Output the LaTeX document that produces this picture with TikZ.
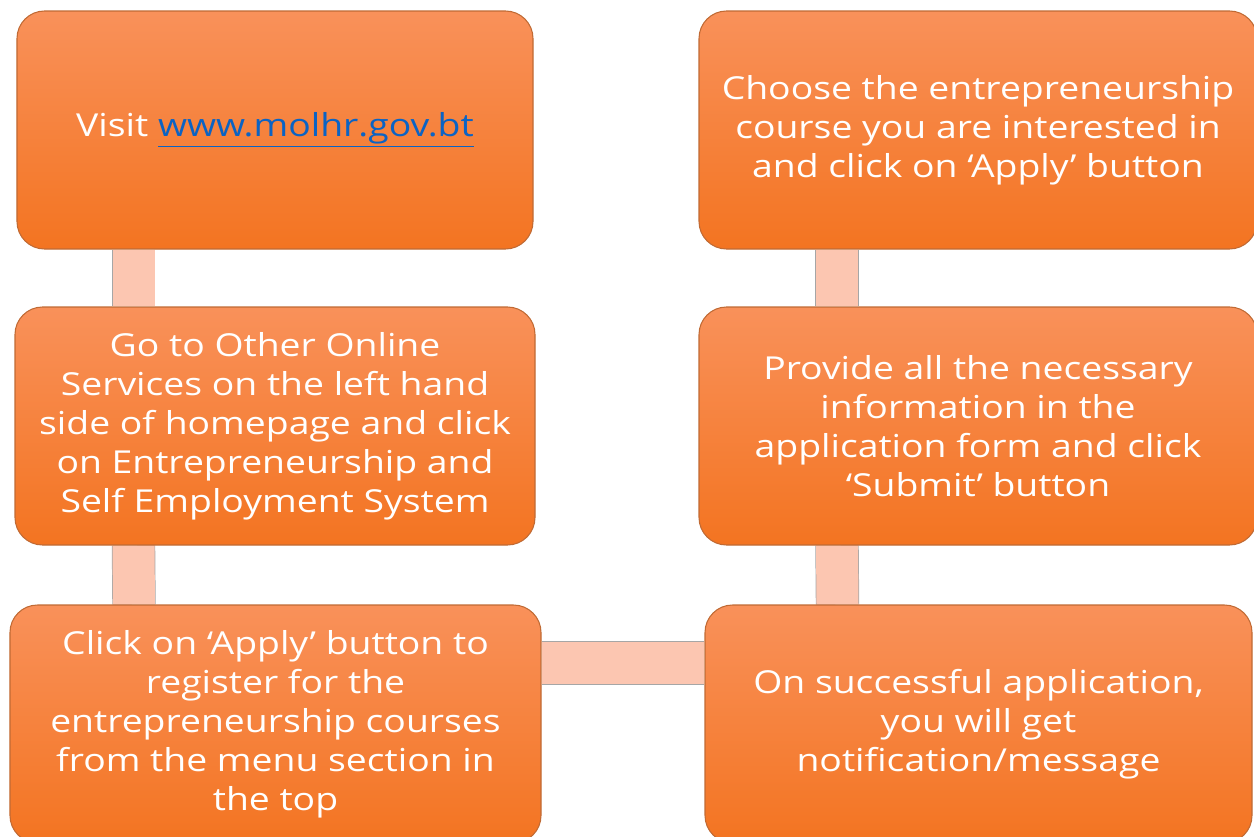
\documentclass[tikz,border=0pt]{standalone}
\usepackage{fontspec}
\setmainfont{Open Sans}[FakeStretch=1.18]
\usetikzlibrary{backgrounds}
\definecolor{boxtop}{HTML}{F9915A}
\definecolor{boxbot}{HTML}{F37421}
\definecolor{boxedge}{HTML}{C06A34}
\definecolor{peach}{HTML}{FCC6B1}
\definecolor{linkblue}{HTML}{0B63C4}
\begin{document}
\begin{tikzpicture}[
    stepbox/.style={draw=boxedge, line width=.6pt, rounded corners=.55cm,
        top color=boxtop, bottom color=boxbot, text=white, align=center,
        minimum height=4.76cm, inner sep=0pt,
        font=\fontsize{18}{22.2}\selectfont},
    link/.style={draw=black!35, line width=.4pt, double=peach, double distance=.84cm}]
        \useasboundingbox (0,0) rectangle (25.08,-16.74);

        \node[stepbox, minimum width=10.32cm](visit) at (5.50,-2.60)
            {Visit {\color{linkblue}\underline{www.molhr.gov.bt}}};
        \node[stepbox, minimum width=10.40cm](services) at (5.50,-8.52)
            {Go to Other Online\\Services on the left hand\\side of homepage and click\\on Entrepreneurship and\\Self Employment System};
        \node[stepbox, minimum width=10.62cm](apply) at (5.51,-14.48)
            {Click on ‘Apply’ button to\\register for the\\entrepreneurship courses\\from the menu section in\\the top};
        \node[stepbox, minimum width=10.94cm](notify) at (19.57,-14.48)
            {On successful application,\\you will get\\notification/message};
        \node[stepbox, minimum width=11.16cm](inform) at (19.56,-8.52)
            {Provide all the necessary\\information in the\\application form and click\\‘Submit’ button};
        \node[stepbox, minimum width=11.16cm](course) at (19.56,-2.60)
            {Choose the entrepreneurship\\course you are interested in\\and click on ‘Apply’ button};

        % bars behind the boxes
        \begin{pgfonlayer}{background}
        \draw[link]([xshift=-2.83cm]visit.south)--([xshift=-2.83cm]services.north);
        \draw[link]([xshift=-2.83cm]services.south)--([xshift=-2.83cm]apply.north);
        \draw[link]([yshift=1.22cm]apply.east)--([yshift=1.22cm]apply.east -| notify.west);
        \draw[link]([xshift=-2.82cm]notify.north)--([xshift=-2.82cm]inform.south);
        \draw[link]([xshift=-2.82cm]inform.north)--([xshift=-2.82cm]course.south);
        \end{pgfonlayer}
    \end{tikzpicture}
\end{document}
